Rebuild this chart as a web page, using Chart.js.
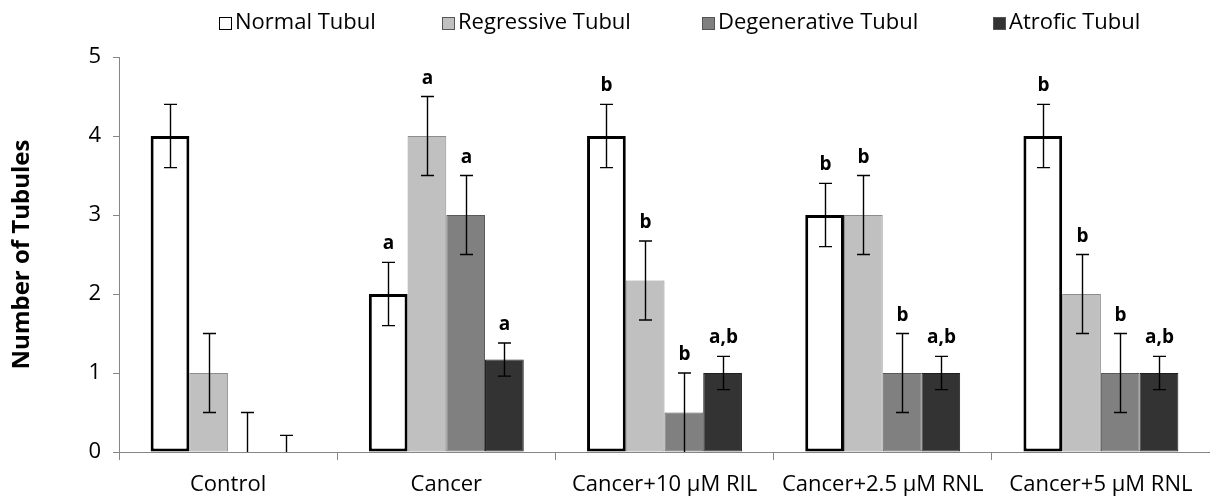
<!DOCTYPE html>
<html>
<head>
<meta charset="utf-8">
<script src="https://cdn.jsdelivr.net/npm/chart.js@4.4.1/dist/chart.umd.min.js"></script>
<style>
  html, body { margin: 0; padding: 0; background: #fff; }
  #wrap { width: 1210px; height: 499px; position: relative; }
</style>
</head>
<body>
<div id="wrap"><canvas id="chart"></canvas></div>
<script>
// categories and series
const categories = ['Control', 'Cancer', 'Cancer+10 µM RIL', 'Cancer+2.5 µM RNL', 'Cancer+5 µM RNL'];
const seriesNames = ['Normal Tubul', 'Regressive Tubul', 'Degenerative Tubul', 'Atrofic Tubul'];

const normalValues = [4, 2, 4, 3, 4];
const regressiveValues = [1, 4, 2.17, 3, 2];
const degenerativeValues = [0, 3, 0.5, 1, 1];
const atroficValues = [0, 1.17, 1, 1, 1];

// error bars (+/-)
const normalErr = [0.4, 0.4, 0.4, 0.4, 0.4];
const regressiveErr = [0.5, 0.5, 0.5, 0.5, 0.5];
const degenerativeErr = [0.5, 0.5, 0.5, 0.5, 0.5];
const atroficErr = [0.21, 0.21, 0.21, 0.21, 0.21];

// significance letters
const normalSig = ['', 'a', 'b', 'b', 'b'];
const regressiveSig = ['', 'a', 'b', 'b', 'b'];
const degenerativeSig = ['', 'a', 'b', 'b', 'b'];
const atroficSig = ['', 'a', 'a,b', 'a,b', 'a,b'];

const yTicks = [0, 1, 2, 3, 4, 5];

const FONT = '"Open Sans", "DejaVu Sans", sans-serif';

const errs = [normalErr, regressiveErr, degenerativeErr, atroficErr];
const sigs = [normalSig, regressiveSig, degenerativeSig, atroficSig];

// error bars + letters
const errorBarPlugin = {
    id: 'errorBars',
    afterDatasetsDraw(chart) {
        const ctx = chart.ctx;
        const y = chart.scales.y;
        ctx.save();
        ctx.strokeStyle = '#000';
        ctx.lineWidth = 1.4;
        chart.data.datasets.forEach((ds, i) => {
            const meta = chart.getDatasetMeta(i);
            meta.data.forEach((bar, j) => {
                const v = ds.data[j];
                const e = errs[i][j];
                const top = y.getPixelForValue(v + e);
                const bot = y.getPixelForValue(Math.max(0, v - e));
                const x = Math.round(bar.x) + 0.5;
                ctx.beginPath();
                ctx.moveTo(x, top);
                ctx.lineTo(x, bot);
                ctx.moveTo(x - 6.5, top);
                ctx.lineTo(x + 6.5, top);
                if (v - e > 0) {
                    ctx.moveTo(x - 6.5, bot);
                    ctx.lineTo(x + 6.5, bot);
                }
                ctx.stroke();

                const s = sigs[i][j];
                if (s) {
                    ctx.fillStyle = '#000';
                    ctx.font = 'bold 19px ' + FONT;
                    ctx.textAlign = 'center';
                    ctx.textBaseline = 'alphabetic';
                    ctx.fillText(s, x, top - 13);
                }
            });
        });
        ctx.restore();
    }
};

// legend drawn like the Excel one (small square right next to the text)
const legendBoxX = [219, 442, 702, 993];
const legendPlugin = {
    id: 'excelLegend',
    afterDraw(chart) {
        const ctx = chart.ctx;
        ctx.save();
        ctx.font = '22px ' + FONT;
        ctx.textBaseline = 'middle';
        ctx.textAlign = 'left';
        chart.data.datasets.forEach((ds, i) => {
            const bx = legendBoxX[i];
            ctx.fillStyle = ds.backgroundColor;
            ctx.fillRect(bx, 17, 13, 13);
            ctx.strokeStyle = i === 0 ? '#000' : '#555';
            ctx.lineWidth = 1;
            ctx.strokeRect(bx + 0.5, 17.5, 12, 12);
            ctx.fillStyle = '#000';
            ctx.fillText(ds.label, bx + 16, 23);
        });
        ctx.restore();
    }
};

const ctx = document.getElementById('chart');

new Chart(ctx, {
    type: 'bar',
    data: {
        labels: categories,
        datasets: [
            {
                label: seriesNames[0],
                data: normalValues,
                backgroundColor: '#ffffff',
                borderColor: '#000000',
                borderWidth: 3
            },
            {
                label: seriesNames[1],
                data: regressiveValues,
                backgroundColor: '#c0c0c0',
                borderColor: '#8c8c8c',
                borderWidth: 1
            },
            {
                label: seriesNames[2],
                data: degenerativeValues,
                backgroundColor: '#808080',
                borderColor: '#5a5a5a',
                borderWidth: 1
            },
            {
                label: seriesNames[3],
                data: atroficValues,
                backgroundColor: '#333333',
                borderColor: '#1e1e1e',
                borderWidth: 1
            }
        ]
    },
    options: {
        responsive: true,
        maintainAspectRatio: false,
        animation: false,
        datasets: {
            bar: {
                categoryPercentage: 0.71,
                barPercentage: 1,
                borderSkipped: false
            }
        },
        layout: {
            padding: { top: 57, right: 0, bottom: 0, left: 0 }
        },
        plugins: {
            legend: { display: false },
            tooltip: { enabled: false }
        },
        scales: {
            x: {
                grid: {
                    offset: true,
                    drawOnChartArea: false,
                    drawTicks: true,
                    tickLength: 8,
                    color: '#868686'
                },
                border: { color: '#868686', width: 1 },
                ticks: {
                    color: '#000',
                    font: { family: FONT, size: 22 },
                    padding: 12,
                    maxRotation: 0,
                    autoSkip: false
                },
                afterFit(scale) { scale.height = 47; }
            },
            y: {
                min: 0,
                max: 5,
                afterBuildTicks(scale) {
                    scale.ticks = yTicks.map(v => ({ value: v }));
                },
                grid: {
                    drawOnChartArea: false,
                    drawTicks: true,
                    tickLength: 6,
                    color: '#868686'
                },
                border: { color: '#868686', width: 1 },
                ticks: {
                    color: '#000',
                    font: { family: FONT, size: 22 },
                    padding: 12
                },
                title: {
                    display: true,
                    text: 'Number of Tubules',
                    color: '#000',
                    font: { family: FONT, size: 24, weight: 'bold' },
                    padding: { top: 8, bottom: 0 }
                },
                afterFit(scale) { scale.width = 119; }
            }
        }
    },
    plugins: [errorBarPlugin, legendPlugin]
});
</script>
</body>
</html>
